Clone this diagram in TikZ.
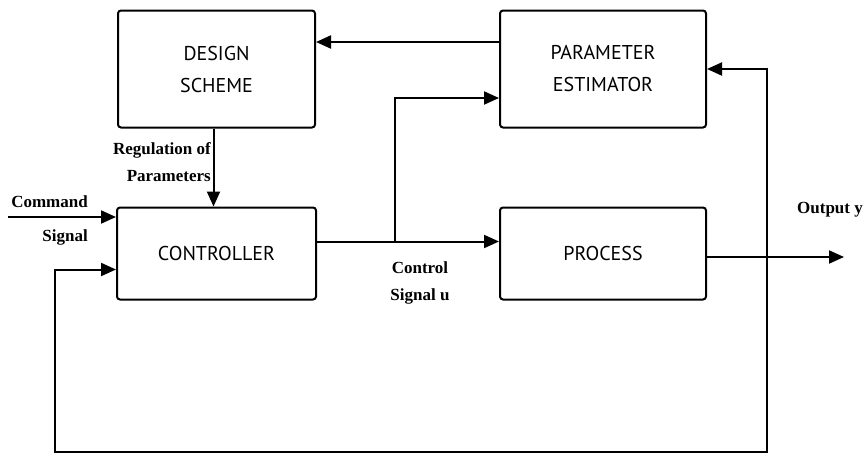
\documentclass[tikz,border=0pt]{standalone}
\usepackage{fontspec}
\setmainfont{Liberation Serif}
\newfontfamily\boxfont{PT Sans}
\usetikzlibrary{arrows.meta, positioning, calc}
\tikzset{
    block/.style={rectangle, draw, line width=2pt, rounded corners=3pt, align=center, font=\boxfont\fontsize{20}{32}\selectfont},
    arrow/.style={line width=2pt, -{Triangle[length=15pt, width=13pt]}},
    label/.style={align=center, font=\bfseries\fontsize{17}{27}\selectfont, inner sep=0pt}
}
\begin{document}
\begin{tikzpicture}[x=1pt, y=-1pt, node distance=78pt]
            \useasboundingbox (0,0) rectangle (866,455);
            \node[block, minimum width=199pt, minimum height=92pt] (controller) at (216.5,253.5) {CONTROLLER};
            \node[block, minimum width=197pt, minimum height=117pt, above=of controller] (design) {DESIGN\\SCHEME};
            \node[block, minimum width=206pt, minimum height=92pt, right=182pt of controller] (process) {PROCESS};
            \node[block, minimum width=206pt, minimum height=117pt, above=of process] (estimator) {PARAMETER\\ESTIMATOR};

            % inputs and outputs
            \coordinate (command) at (8,217);
            \coordinate (branch) at ($([yshift=12pt]controller.east)!0.43!([yshift=12pt]process.west)$);
            \coordinate (tap) at (767,257);
            \coordinate (bottomright) at (767,452);
            \coordinate (bottomleft) at (55,452);

            \draw[arrow] ([yshift=27pt]estimator.west) -- ([yshift=27pt]estimator.west -| design.east);
            \draw[arrow] ([xshift=-3pt]design.south) -- ([xshift=-3pt]design.south |- controller.north);
            \draw[arrow] (command) -- (command -| controller.west);
            \draw[arrow] ([yshift=12pt]controller.east) -- ([yshift=12pt]process.west);
            \draw[arrow] (branch) |- ([yshift=-29pt]estimator.west);
            \draw[arrow] (process.east |- tap) -- ++(137pt,0);
            \draw[arrow] (tap) |- (estimator.east);
            \draw[arrow] (tap) -- (bottomright) -- (bottomleft) |- ([yshift=-16pt]controller.west);

            % labels
            \node[label, align=right, anchor=east] (regulation) at (211,162) {Regulation of\\Parameters};
            \node[label, align=right, anchor=east] (commandlabel) at (88,220) {Command\\[7pt]Signal};
            \node[label] (controllabel) at (420,283) {Control\\Signal u};
            \node[label] (outputlabel) at (830,210) {Output y};
        \end{tikzpicture}
\end{document}
